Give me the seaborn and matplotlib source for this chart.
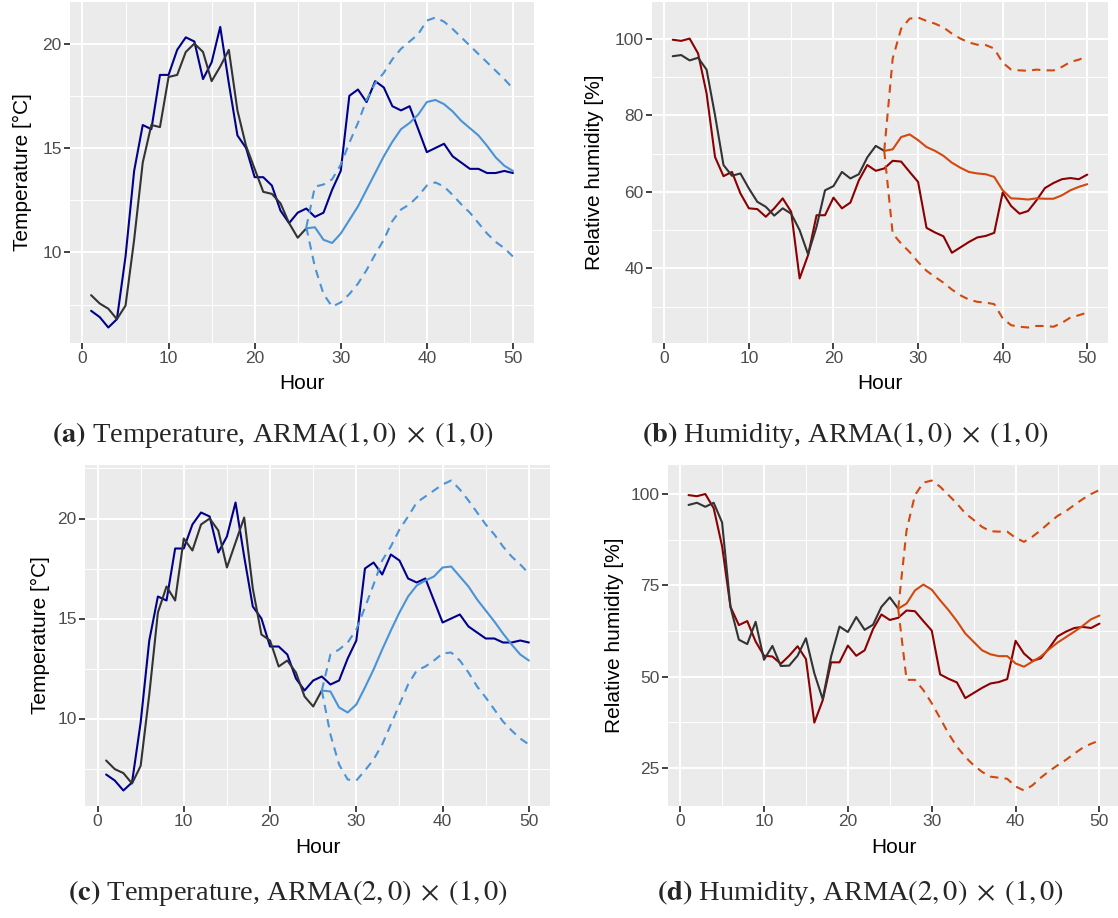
import matplotlib
matplotlib.use("Agg")
import matplotlib.pyplot as plt
from matplotlib.ticker import MultipleLocator
import seaborn as sns

# hours
hours = list(range(1, 51))
hours_fit = list(range(1, 27))
hours_fc = list(range(26, 51))

# observed series (same in both rows)
temp_actual = [7.2, 6.9, 6.4, 6.8, 9.8, 13.9, 16.1, 15.9, 18.5, 18.5,
               19.7, 20.3, 20.1, 18.3, 19.1, 20.8, 18.1, 15.6, 15.0, 13.6,
               13.6, 13.2, 12.0, 11.4, 11.9, 12.1, 11.7, 11.9, 13.0, 13.9,
               17.5, 17.8, 17.2, 18.2, 17.9, 17.0, 16.8, 17.0, 15.9, 14.8,
               15.0, 15.2, 14.6, 14.3, 14.0, 14.0, 13.8, 13.8, 13.9, 13.8]
hum_actual = [99.7, 99.4, 100.0, 96.1, 85.7, 69.1, 64.1, 65.2, 59.6, 55.7,
              55.5, 53.5, 55.7, 58.3, 54.8, 37.4, 43.5, 53.9, 53.9, 58.5,
              55.7, 57.2, 63.0, 67.0, 65.5, 66.1, 68.1, 67.9, 65.2, 62.6,
              50.6, 49.4, 48.4, 44.1, 45.5, 46.9, 48.1, 48.5, 49.3, 59.8,
              56.3, 54.3, 55.0, 57.8, 61.0, 62.3, 63.3, 63.6, 63.3, 64.5]

# (a) temperature, ARMA(1,0)x(1,0)
temp_fit_a = [7.95, 7.55, 7.3, 6.8, 7.45, 10.6, 14.3, 16.1, 16.0, 18.4,
              18.5, 19.6, 20.0, 19.6, 18.2, 18.9, 19.7, 16.8, 15.1, 14.0,
              12.9, 12.8, 12.35, 11.4, 10.7, 11.15]
temp_fc_a = [11.15, 11.2, 10.6, 10.45, 10.9, 11.55, 12.2, 13.0, 13.8, 14.6,
             15.3, 15.9, 16.2, 16.6, 17.2, 17.3, 17.1, 16.75, 16.3, 15.95,
             15.6, 15.1, 14.55, 14.15, 13.9]
temp_hi_a = [11.2, 13.15, 13.25, 13.5, 14.2, 15.25, 16.2, 17.3, 18.1, 18.6,
             19.25, 19.75, 20.1, 20.45, 21.1, 21.25, 21.05, 20.7, 20.3, 19.9,
             19.5, 19.1, 18.7, 18.3, 17.85]
temp_lo_a = [11.2, 9.3, 8.0, 7.4, 7.6, 8.0, 8.5, 9.15, 9.9, 10.6,
             11.5, 12.05, 12.3, 12.7, 13.2, 13.35, 13.15, 12.75, 12.3, 11.9,
             11.4, 10.9, 10.5, 10.2, 9.8]

# (b) humidity, ARMA(1,0)x(1,0)
hum_fit_b = [95.4, 95.7, 94.3, 95.0, 91.9, 80.0, 67.0, 64.2, 64.8, 60.9,
             57.4, 56.1, 53.8, 55.7, 54.3, 50.0, 43.7, 50.9, 60.4, 61.5,
             65.2, 63.5, 64.6, 69.0, 72.0, 70.7]
hum_fc_b = [70.7, 71.1, 74.3, 75.0, 73.5, 71.7, 70.7, 69.4, 67.6, 66.3,
            65.2, 64.8, 64.6, 63.9, 60.4, 58.3, 58.2, 58.0, 58.3, 58.2,
            58.2, 59.1, 60.4, 61.3, 62.0]
hum_hi_b = [70.7, 94.8, 102.6, 105.2, 105.5, 104.6, 103.9, 102.9, 101.3, 100.0,
            99.0, 98.4, 98.3, 97.4, 93.7, 91.9, 91.7, 91.6, 91.9, 91.7,
            91.7, 92.6, 93.9, 94.5, 95.4]
hum_lo_b = [70.7, 49.1, 46.5, 44.3, 41.7, 39.4, 37.8, 36.3, 34.5, 33.0,
            31.9, 31.3, 31.1, 30.7, 27.0, 25.2, 24.8, 24.6, 25.0, 25.0,
            24.8, 25.8, 27.2, 27.8, 28.5]

# (c) temperature, ARMA(2,0)x(1,0)
temp_fit_c = [7.9, 7.47, 7.27, 6.75, 7.63, 11.2, 15.3, 16.6, 15.9, 19.0,
              18.4, 19.7, 20.0, 19.4, 17.55, 18.8, 20.05, 16.5, 14.2, 13.9,
              12.6, 12.9, 12.3, 11.1, 10.6, 11.4]
temp_fc_c = [11.4, 11.35, 10.55, 10.3, 10.7, 11.55, 12.45, 13.45, 14.4, 15.3,
             16.1, 16.65, 16.9, 17.1, 17.55, 17.6, 17.1, 16.6, 15.95, 15.4,
             14.85, 14.25, 13.7, 13.2, 12.9]
temp_hi_c = [11.4, 13.2, 13.45, 13.8, 14.45, 15.55, 16.7, 17.9, 18.6, 19.45,
             20.1, 20.8, 21.1, 21.4, 21.7, 21.9, 21.45, 20.9, 20.3, 19.7,
             19.2, 18.6, 18.1, 17.7, 17.25]
temp_lo_c = [11.4, 9.2, 7.7, 6.95, 6.9, 7.4, 7.95, 8.7, 9.7, 10.7,
             11.7, 12.4, 12.6, 12.9, 13.25, 13.3, 12.9, 12.3, 11.6, 11.05,
             10.45, 9.85, 9.4, 9.0, 8.7]

# (d) humidity, ARMA(2,0)x(1,0)
hum_fit_d = [97.0, 97.6, 96.5, 97.6, 92.2, 69.1, 60.1, 58.9, 65.0, 54.6,
             58.4, 52.9, 53.0, 55.7, 60.5, 50.9, 43.8, 55.5, 63.7, 62.2,
             66.3, 62.8, 64.2, 69.1, 71.7, 68.6]
hum_fc_d = [68.6, 70.0, 73.6, 75.2, 73.8, 70.9, 68.2, 65.2, 61.8, 59.5,
            57.2, 56.1, 55.6, 55.6, 53.6, 52.7, 54.1, 55.5, 57.5, 59.3,
            60.8, 62.3, 63.9, 65.7, 66.7]
hum_hi_d = [68.6, 90.1, 99.7, 103.1, 103.7, 102.0, 99.7, 97.4, 94.7, 92.9,
            91.0, 89.8, 89.7, 89.7, 88.0, 86.9, 88.3, 90.1, 92.1, 94.0,
            95.3, 97.0, 98.6, 100.0, 101.1]
hum_lo_d = [68.6, 49.1, 49.1, 46.3, 42.7, 38.6, 34.4, 30.8, 28.0, 25.7,
            23.9, 22.6, 22.3, 22.0, 19.9, 18.8, 20.2, 22.3, 24.1, 25.7,
            27.2, 28.9, 30.5, 31.6, 32.5]

captions = [r"$\mathbf{(a)}$ Temperature, ARMA$(1,0)\;\times\;(1,0)$",
            r"$\mathbf{(b)}$ Humidity, ARMA$(1,0)\;\times\;(1,0)$",
            r"$\mathbf{(c)}$ Temperature, ARMA$(2,0)\;\times\;(1,0)$",
            r"$\mathbf{(d)}$ Humidity, ARMA$(2,0)\;\times\;(1,0)$"]

sns.set_theme(style="darkgrid", rc={
    "axes.facecolor": "#EBEBEB",
    "grid.color": "white",
    "axes.edgecolor": "#EBEBEB",
    "xtick.color": "#333333",
    "ytick.color": "#333333",
    "xtick.labelcolor": "#4D4D4D",
    "ytick.labelcolor": "#4D4D4D",
    "xtick.bottom": True,
    "ytick.left": True,
})
plt.rcParams["font.family"] = ["Liberation Sans", "DejaVu Sans"]
plt.rcParams["mathtext.fontset"] = "stix"

W, H = 1118, 918
fig = plt.figure(figsize=(W / 100, H / 100), dpi=100)


def px_axes(left, right, top, bottom):
    return fig.add_axes([left / W, (H - bottom) / H, (right - left) / W, (bottom - top) / H])


panels = [
    dict(box=(70, 534, 2, 343), actual=temp_actual, fit=temp_fit_a, fc=temp_fc_a,
         hi=temp_hi_a, lo=temp_lo_a, c_act="#00008B", c_fc="#4A93D6",
         ylabel="Temperature [°C]", ymaj=5, ylab_x=-0.082, xlab_y=-0.09, cap=(273, 435)),
    dict(box=(652, 1108, 2, 343), actual=hum_actual, fit=hum_fit_b, fc=hum_fc_b,
         hi=hum_hi_b, lo=hum_lo_b, c_act="#8B0000", c_fc="#D2480E",
         ylabel="Relative humidity [%]", ymaj=20, ylab_x=-0.106, xlab_y=-0.09, cap=(845, 435)),
    dict(box=(85, 550, 465, 806), actual=temp_actual, fit=temp_fit_c, fc=temp_fc_c,
         hi=temp_hi_c, lo=temp_lo_c, c_act="#00008B", c_fc="#4A93D6",
         ylabel="Temperature [°C]", ymaj=5, ylab_x=-0.075, xlab_y=-0.094, cap=(288, 893)),
    dict(box=(668, 1120, 465, 806), actual=hum_actual, fit=hum_fit_d, fc=hum_fc_d,
         hi=hum_hi_d, lo=hum_lo_d, c_act="#8B0000", c_fc="#D2480E",
         ylabel="Relative humidity [%]", ymaj=25, ylab_x=-0.098, xlab_y=-0.094, cap=(860, 893)),
]

dash = (0, (4, 3))
for p, cap in zip(panels, captions):
    ax = px_axes(*p["box"])
    sns.lineplot(x=hours, y=p["actual"], ax=ax, color=p["c_act"], lw=1.5)
    sns.lineplot(x=hours_fit, y=p["fit"], ax=ax, color="#333333", lw=1.5)
    sns.lineplot(x=hours_fc, y=p["fc"], ax=ax, color=p["c_fc"], lw=1.5)
    sns.lineplot(x=hours_fc, y=p["hi"], ax=ax, color=p["c_fc"], lw=1.5, linestyle=dash)
    sns.lineplot(x=hours_fc, y=p["lo"], ax=ax, color=p["c_fc"], lw=1.5, linestyle=dash)

    ax.xaxis.set_major_locator(MultipleLocator(10))
    ax.xaxis.set_minor_locator(MultipleLocator(5))
    ax.yaxis.set_major_locator(MultipleLocator(p["ymaj"]))
    ax.yaxis.set_minor_locator(MultipleLocator(p["ymaj"] / 2))
    ax.grid(which="major", color="white", lw=1.4)
    ax.grid(which="minor", color="white", lw=0.7)
    ax.tick_params(which="major", length=4, width=1.3, labelsize=12.5, pad=2)
    ax.tick_params(which="minor", length=0)
    for s in ax.spines.values():
        s.set_visible(False)
    ax.set_xlabel("Hour", fontsize=15, color="black")
    ax.set_ylabel(p["ylabel"], fontsize=15, color="black")
    ax.xaxis.set_label_coords(0.5, p["xlab_y"])
    ax.yaxis.set_label_coords(p["ylab_x"], 0.5)

    cx, cy = p["cap"]
    fig.text(cx / W, (H - cy) / H, cap, ha="center", va="center",
             fontsize=20.5, family=["Liberation Serif", "DejaVu Serif"])

fig.savefig("out.png", dpi=100, facecolor="white")
